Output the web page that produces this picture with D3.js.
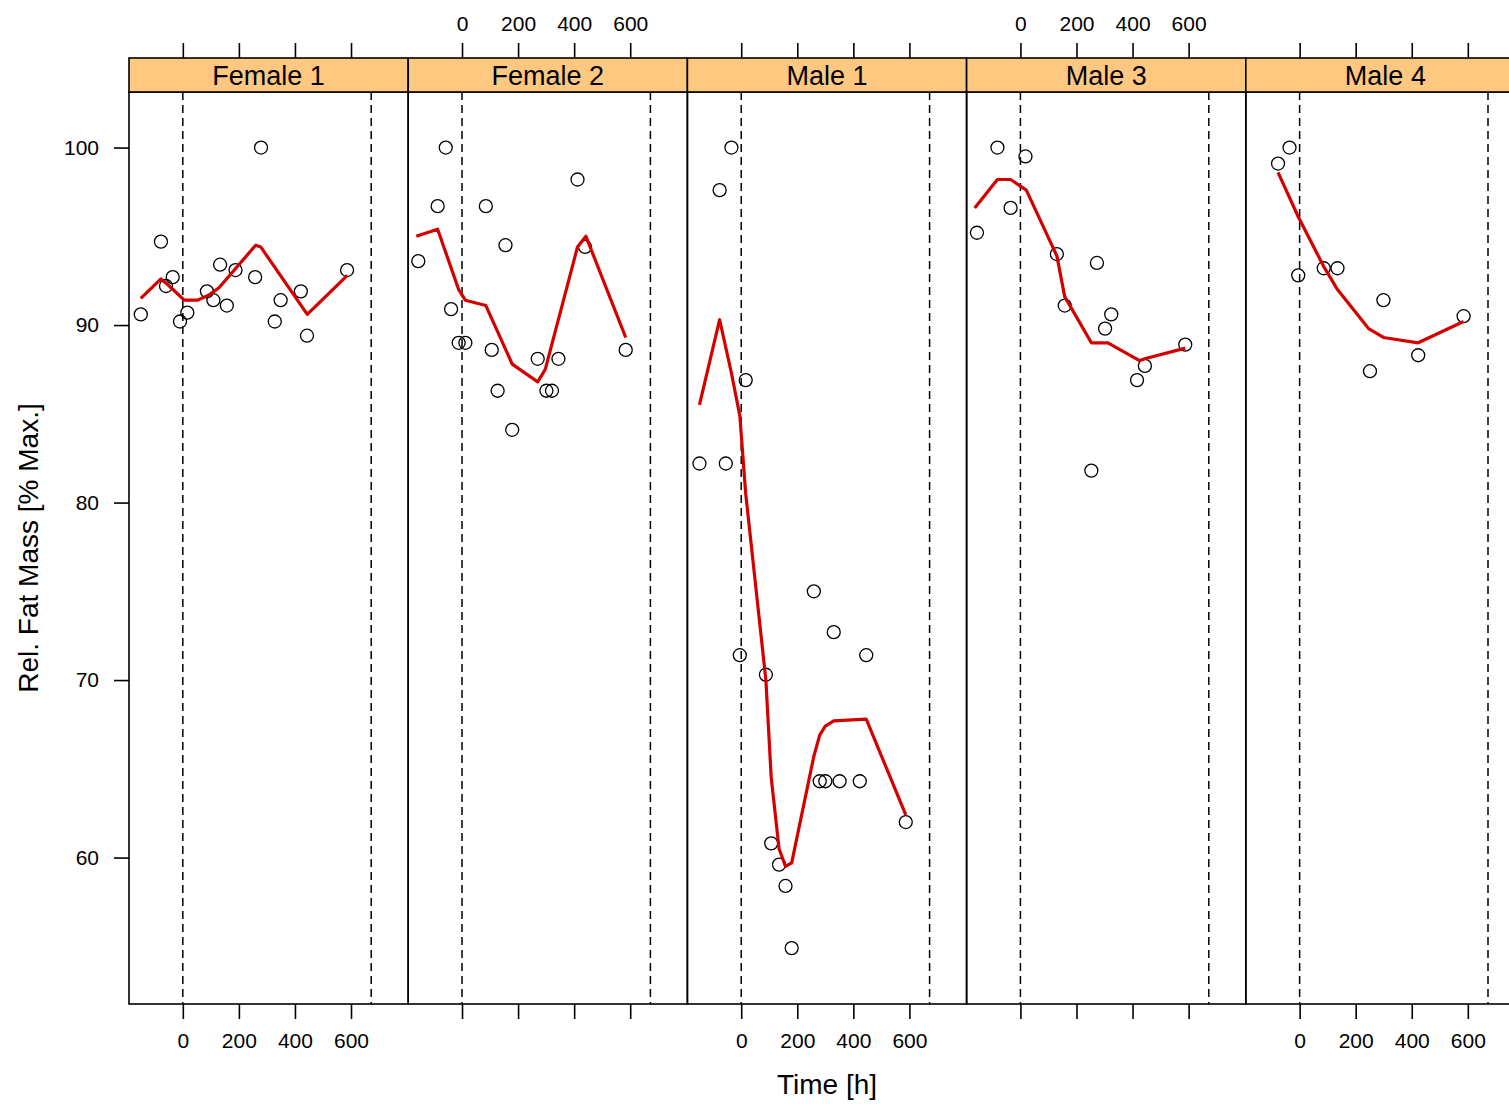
<!DOCTYPE html>
<html>
<head>
<meta charset="utf-8">
<script src="https://cdn.jsdelivr.net/npm/d3@7"></script>
<style>
  body { margin: 0; background: white; }
  text { font-family: "Liberation Sans", Arial, sans-serif; fill: black; }
</style>
</head>
<body>
<div id="chart"></div>
<script>
// panels in drawing order
const panels = ['Female 1', 'Female 2', 'Male 1', 'Male 3', 'Male 4'];

// measured points (time in h, rel. fat mass in % max)
const female1Time = [-150, -78, -60, -36, -10, 16, 86, 109, 133, 157, 188, 258, 279, 328, 349, 421, 443, 586];
const female1Fat  = [90.6, 94.7, 92.2, 92.7, 90.2, 90.7, 91.9, 91.4, 93.4, 91.1, 93.1, 92.7, 100, 90.2, 91.4, 91.9, 89.4, 93.1];
const female2Time = [-156, -87, -58, -39, -12, 12, 85, 106, 127, 155, 179, 270, 301, 321, 344, 412, 439, 584];
const female2Fat  = [93.6, 96.7, 100, 90.9, 89.0, 89.0, 96.7, 88.6, 86.3, 94.5, 84.1, 88.1, 86.3, 86.3, 88.1, 98.2, 94.4, 88.6];
const male1Time = [-149, -77, -55, -35, -5, 16, 88, 107, 135, 158, 180, 259, 280, 300, 330, 351, 423, 446, 587];
const male1Fat  = [82.2, 97.6, 82.2, 100, 71.4, 86.9, 70.3, 60.8, 59.6, 58.4, 54.9, 75.0, 64.3, 64.3, 72.7, 64.3, 64.3, 71.4, 62.0];
const male3Time = [-155, -82, -35, 18, 130, 158, 253, 273, 302, 324, 416, 444, 588];
const male3Fat  = [95.2, 100, 96.6, 99.5, 94.0, 91.1, 81.8, 93.5, 89.8, 90.6, 86.9, 87.7, 88.9];
const male4Time = [-77, -36, -5, 86, 135, 251, 299, 423, 585];
const male4Fat  = [99.1, 100, 92.8, 93.2, 93.2, 87.4, 91.4, 88.3, 90.5];

// smoothed curve per panel
const female1SmoothTime = [-150, -78, -55, 5, 52, 94, 129, 260, 278, 444, 587];
const female1SmoothFat  = [91.5, 92.6, 92.3, 91.4, 91.4, 91.7, 92.1, 94.5, 94.4, 90.6, 92.8];
const female2SmoothTime = [-163, -87, -12, 12, 85, 179, 270, 297, 412, 442, 584];
const female2SmoothFat  = [95.0, 95.4, 92.0, 91.4, 91.1, 87.8, 86.8, 87.5, 94.4, 95.0, 89.3];
const male1SmoothTime = [-149, -77, -35, -5, 16, 88, 107, 135, 158, 180, 259, 280, 300, 330, 446, 587];
const male1SmoothFat  = [85.5, 90.3, 87.3, 84.9, 80.5, 70.0, 64.5, 60.5, 59.5, 59.7, 65.7, 66.9, 67.4, 67.7, 67.8, 62.4];
const male3SmoothTime = [-163, -82, -35, 21, 130, 158, 253, 312, 425, 444, 588];
const male3SmoothFat  = [96.6, 98.2, 98.2, 97.6, 93.9, 91.6, 89.0, 89.0, 88.0, 88.1, 88.7];
const male4SmoothTime = [-77, -5, 86, 135, 246, 299, 423, 585];
const male4SmoothFat  = [98.6, 96.1, 93.3, 92.0, 89.8, 89.3, 89.0, 90.2];

const xTicks = [0, 200, 400, 600];
const yTicks = [60, 70, 80, 90, 100];
const refLines = [0, 672];

const pointsTime = [female1Time, female2Time, male1Time, male3Time, male4Time];
const pointsFat = [female1Fat, female2Fat, male1Fat, male3Fat, male4Fat];
const smoothTime = [female1SmoothTime, female2SmoothTime, male1SmoothTime, male3SmoothTime, male4SmoothTime];
const smoothFat = [female1SmoothFat, female2SmoothFat, male1SmoothFat, male3SmoothFat, male4SmoothFat];

const width = 1509, height = 1104;
const plotLeft = 129, plotTop = 92, plotBottom = 1004;
const panelW = 279.2, stripH = 34;

const svg = d3.select('#chart')
  .append('svg')
  .attr('width', width)
  .attr('height', height);

svg.append('rect').attr('width', width).attr('height', height).attr('fill', 'white');

const x = d3.scaleLinear().domain([-192, 804]).range([0, panelW]);
const y = d3.scaleLinear().domain([51.75, 103.13]).range([plotBottom, plotTop]);

const line = d3.line()
  .x(d => x(d[0]))
  .y(d => y(d[1]));

panels.forEach((name, i) => {
  const g = svg.append('g').attr('transform', `translate(${plotLeft + i * panelW},0)`);

  // reference lines
  g.selectAll('.ref')
    .data(refLines)
    .enter()
    .append('line')
    .attr('x1', d => x(d)).attr('x2', d => x(d))
    .attr('y1', plotTop).attr('y2', plotBottom)
    .attr('stroke', 'black')
    .attr('stroke-width', 1.5)
    .attr('stroke-dasharray', '8,5');

  // points
  const pts = pointsTime[i].map((t, j) => [t, pointsFat[i][j]]);
  g.selectAll('.pt')
    .data(pts)
    .enter()
    .append('circle')
    .attr('cx', d => x(d[0]))
    .attr('cy', d => y(d[1]))
    .attr('r', 6.5)
    .attr('fill', 'none')
    .attr('stroke', 'black')
    .attr('stroke-width', 1.3);

  // smooth line
  const sm = smoothTime[i].map((t, j) => [t, smoothFat[i][j]]);
  g.append('path')
    .attr('d', line(sm))
    .attr('fill', 'none')
    .attr('stroke', '#d40000')
    .attr('stroke-width', 3.2)
    .attr('stroke-linejoin', 'round');

  // panel box
  g.append('rect')
    .attr('x', 0).attr('y', plotTop)
    .attr('width', panelW).attr('height', plotBottom - plotTop)
    .attr('fill', 'none')
    .attr('stroke', 'black')
    .attr('stroke-width', 1.6);

  // strip
  g.append('rect')
    .attr('x', 0).attr('y', plotTop - stripH)
    .attr('width', panelW).attr('height', stripH)
    .attr('fill', '#ffc880')
    .attr('stroke', 'black')
    .attr('stroke-width', 1.6);
  g.append('text')
    .attr('x', panelW / 2)
    .attr('y', plotTop - 7)
    .attr('text-anchor', 'middle')
    .style('font-size', '27px')
    .text(name);

  // alternating x axes: labels bottom on odd panels, top on even
  const labelBottom = i % 2 === 0;
  const axB = d3.axisBottom(x).tickValues(xTicks).tickSize(15).tickPadding(14);
  const axT = d3.axisTop(x).tickValues(xTicks).tickSize(15).tickPadding(12);
  if (!labelBottom) axB.tickFormat('');
  if (labelBottom) axT.tickFormat('');

  const gb = g.append('g').attr('transform', `translate(0,${plotBottom})`).call(axB);
  const gt = g.append('g').attr('transform', `translate(0,${plotTop - stripH})`).call(axT);
  [gb, gt].forEach(a => {
    a.select('.domain').remove();
    a.selectAll('line').attr('stroke', 'black').attr('stroke-width', 1.6);
    a.selectAll('text').attr('fill', 'black').style('font-size', '21px')
      .style('font-family', '"Liberation Sans", Arial, sans-serif');
  });
});

// y axis on the left
const ya = svg.append('g')
  .attr('transform', `translate(${plotLeft},0)`)
  .call(d3.axisLeft(y).tickValues(yTicks).tickSize(15).tickPadding(15));
ya.select('.domain').remove();
ya.selectAll('line').attr('stroke', 'black').attr('stroke-width', 1.6);
ya.selectAll('text').attr('fill', 'black').style('font-size', '21px')
  .style('font-family', '"Liberation Sans", Arial, sans-serif');

// right ticks of last panel (outside the window)
const yr = svg.append('g')
  .attr('transform', `translate(${plotLeft + 5 * panelW},0)`)
  .call(d3.axisRight(y).tickValues(yTicks).tickSize(15).tickFormat(''));
yr.select('.domain').remove();
yr.selectAll('line').attr('stroke', 'black').attr('stroke-width', 1.6);

// axis titles
svg.append('text')
  .attr('x', plotLeft + 2.5 * panelW)
  .attr('y', 1094)
  .attr('text-anchor', 'middle')
  .style('font-size', '28px')
  .text('Time [h]');

svg.append('text')
  .attr('transform', `translate(38,${(plotTop + plotBottom) / 2}) rotate(-90)`)
  .attr('text-anchor', 'middle')
  .style('font-size', '28px')
  .text('Rel. Fat Mass [% Max.]');
</script>
</body>
</html>
